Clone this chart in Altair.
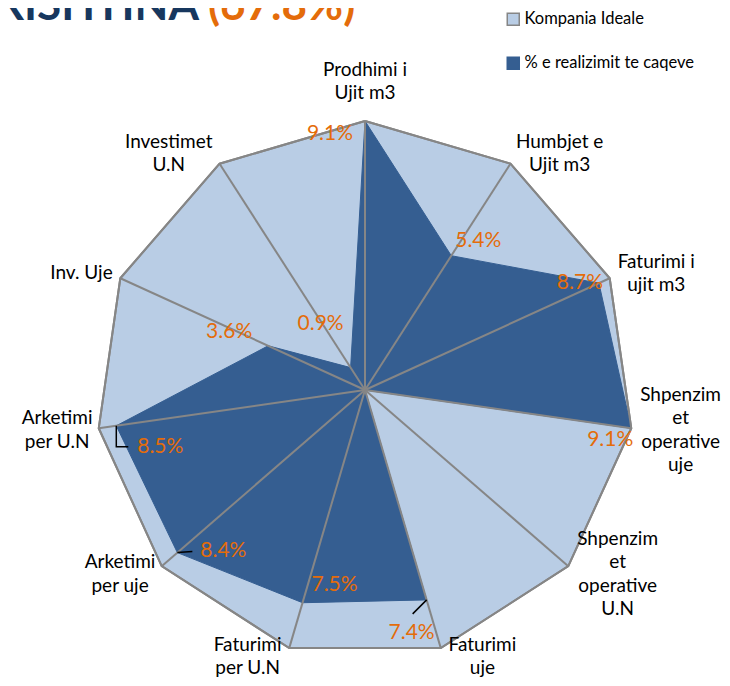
import math
import altair as alt
import pandas as pd

# ---------------- data ----------------
categories = [
    "Prodhimi i Ujit m3", "Humbjet e Ujit m3", "Faturimi i ujit m3",
    "Shpenzimet operative uje", "Shpenzimet operative U.N", "Faturimi uje",
    "Faturimi per U.N", "Arketimi per uje", "Arketimi per U.N", "Inv. Uje",
    "Investimet U.N",
]
category_labels = [
    "Prodhimi i\nUjit m3", "Humbjet e\nUjit m3", "Faturimi i\nujit m3",
    "Shpenzim\net\noperative\nuje", "Shpenzim\net\noperative\nU.N",
    "Faturimi\nuje", "Faturimi\nper U.N", "Arketimi\nper uje",
    "Arketimi\nper U.N", "Inv. Uje", "Investimet\nU.N",
]
ideal_values = [9.1, 9.1, 9.1, 9.1, 9.1, 9.1, 9.1, 9.1, 9.1, 9.1, 9.1]
realized_values = [9.1, 5.4, 8.7, 9.1, 0.0, 7.4, 7.5, 8.4, 8.5, 3.6, 0.9]
series_names = ["Kompania Ideale", "% e realizimit te caqeve"]
title_name = "PRISHTINA"
title_share = "(67.8%)"

# ---------------- layout / style ----------------
W, H = 714, 670
CX, CY = 357, 382          # centre of the radar inside the plot area (px)
R_PX = 269                 # radius of the outer polygon (px)
R_MAX = 9.1                # value at the outer polygon
UNIT = R_PX / R_MAX
X_DOMAIN = [-CX / UNIT, (W - CX) / UNIT]
Y_DOMAIN = [-(H - CY) / UNIT, CY / UNIT]

FONT = "Lato"
LIGHT, DARK, GRAY = "#B9CDE5", "#355E91", "#868686"
ORANGE, NAVY = "#E46C0A", "#17375E"
CAT_SIZE, LINE_H = 19, 23.5
VAL_SIZE = 21
LEG_SIZE = 16.5

# label nudges (px, screen y down) for value labels, as placed in the source
value_label_offsets = [(-35, 13), (27, -15), (-19, 0), (-21, 12), (0, 0),
                       (-15, 33), (32, -18), (46, -1.5), (44, 21), (-39, -14), (-30, -44)]
# leader lines (px offsets from the data point)
leader_paths = {5: [(0, 0), (-14, 14)], 7: [(0, 0), (15, -1)], 8: [(0, 0), (0, 21), (12, 21)]}

n = len(categories)
theta = [2 * math.pi * i / n for i in range(n)]

# polygons
poly_rows = []
for s, vals in zip(series_names, [ideal_values, realized_values]):
    for k in range(n + 1):
        i = k % n
        poly_rows.append({"series": s, "order": k,
                          "x": vals[i] * math.sin(theta[i]),
                          "y": vals[i] * math.cos(theta[i])})
poly = pd.DataFrame(poly_rows)
poly_ideal = poly[poly.series == series_names[0]]
poly_real = poly[poly.series == series_names[1]]

# spokes
spokes = pd.DataFrame({
    "cat": categories,
    "x": [0.0] * n, "y": [0.0] * n,
    "x2": [ideal_values[i] * math.sin(theta[i]) for i in range(n)],
    "y2": [ideal_values[i] * math.cos(theta[i]) for i in range(n)],
})


def text_width(s, size):
    w = 0.0
    for ch in s:
        if ch in "ijltfrI.' ":
            w += 0.26
        elif ch in "mwMW%":
            w += 0.82
        elif ch.isupper() or ch.isdigit():
            w += 0.62
        else:
            w += 0.53
    return w * size


cat_rows = []
for i in range(n):
    s, c = math.sin(theta[i]), math.cos(theta[i])
    vx, vy = ideal_values[i] * s, ideal_values[i] * c
    lines = category_labels[i].split("\n")
    hw = max(text_width(l, CAT_SIZE) for l in lines) / 2
    hh = len(lines) * LINE_H / 2
    if abs(s) < 0.05:
        dx, dy = 0.0, -(16 + hh)
    else:
        dx, dy = math.copysign(8 + hw, s), min(-c * 12, 8.5)
    # vega anchors the first line of a multi-line text: shift to centre the block
    dy -= (len(lines) - 1) * LINE_H / 2
    cat_rows.append({"label": category_labels[i], "x": vx + dx / UNIT, "y": vy - dy / UNIT})
cat_df = pd.DataFrame(cat_rows)

val_rows = []
for i in range(n):
    v = realized_values[i]
    if v <= 0:
        continue
    px, py = v * math.sin(theta[i]), v * math.cos(theta[i])
    dx, dy = value_label_offsets[i]
    val_rows.append({"label": f"{v:.1f}%", "x": px + dx / UNIT, "y": py - dy / UNIT})
val_df = pd.DataFrame(val_rows)

lead_rows = []
for i, path in leader_paths.items():
    v = realized_values[i]
    px, py = v * math.sin(theta[i]), v * math.cos(theta[i])
    for k, (dx, dy) in enumerate(path):
        lead_rows.append({"id": i, "order": k, "x": px + dx / UNIT, "y": py - dy / UNIT})
lead_df = pd.DataFrame(lead_rows)

xs = alt.Scale(domain=X_DOMAIN, nice=False, zero=False)
ys = alt.Scale(domain=Y_DOMAIN, nice=False, zero=False)


def X(f="x"):
    return alt.X(f"{f}:Q", scale=xs, axis=None)


def Y(f="y"):
    return alt.Y(f"{f}:Q", scale=ys, axis=None)


legend = alt.Legend(title=None, orient="none", legendX=497, legendY=3,
                    symbolType="square", symbolSize=144, symbolStrokeWidth=1.5,
                    labelFont=FONT, labelFontSize=LEG_SIZE, labelColor="black",
                    labelOffset=3, rowPadding=25, padding=0, labelLimit=400)
fill_enc = alt.Fill("series:N", scale=alt.Scale(domain=series_names, range=[LIGHT, DARK]), legend=legend)
stroke_enc = alt.Stroke("series:N", scale=alt.Scale(domain=series_names, range=[GRAY, DARK]), legend=legend)

ideal_layer = alt.Chart(poly_ideal).mark_line(strokeWidth=2, strokeJoin="miter").encode(
    x=X(), y=Y(), order="order:Q", fill=fill_enc, stroke=stroke_enc)
real_layer = alt.Chart(poly_real).mark_line(strokeWidth=1, strokeJoin="miter").encode(
    x=X(), y=Y(), order="order:Q", fill=fill_enc, stroke=stroke_enc)
spoke_layer = alt.Chart(spokes).mark_rule(color=GRAY, strokeWidth=2).encode(
    x=X(), y=Y(), x2="x2:Q", y2="y2:Q")
outline_layer = alt.Chart(poly_ideal).mark_line(color=GRAY, strokeWidth=2, strokeJoin="miter").encode(
    x=X(), y=Y(), order="order:Q")
leader_layer = alt.Chart(lead_df).mark_line(color="black", strokeWidth=1.5).encode(
    x=X(), y=Y(), order="order:Q", detail="id:N")
cat_layer = alt.Chart(cat_df).mark_text(font=FONT, fontSize=CAT_SIZE, color="black",
                                        lineBreak="\n", lineHeight=LINE_H,
                                        align="center", baseline="middle").encode(
    x=X(), y=Y(), text="label:N")
val_layer = alt.Chart(val_df).mark_text(font=FONT, fontSize=VAL_SIZE, color=ORANGE,
                                        align="center", baseline="middle").encode(
    x=X(), y=Y(), text="label:N")

t1 = alt.Chart(pd.DataFrame({"t": [title_name]})).mark_text(
    font=FONT, fontSize=44, fontWeight="bold", color=NAVY, align="right", baseline="alphabetic"
).encode(x=alt.value(191), y=alt.value(12), text="t:N")
t2 = alt.Chart(pd.DataFrame({"t": [title_share]})).mark_text(
    font=FONT, fontSize=44, fontWeight="bold", color=ORANGE, align="left", baseline="alphabetic"
).encode(x=alt.value(200), y=alt.value(12), text="t:N")

chart = alt.layer(ideal_layer, real_layer, spoke_layer, outline_layer, leader_layer,
                  cat_layer, val_layer, t1, t2).properties(
    width=W, height=H, padding=0, autosize=alt.AutoSizeParams(type="none")
).configure_view(stroke=None)

chart.save("out.html", embed_options={"renderer": "svg", "actions": False})
